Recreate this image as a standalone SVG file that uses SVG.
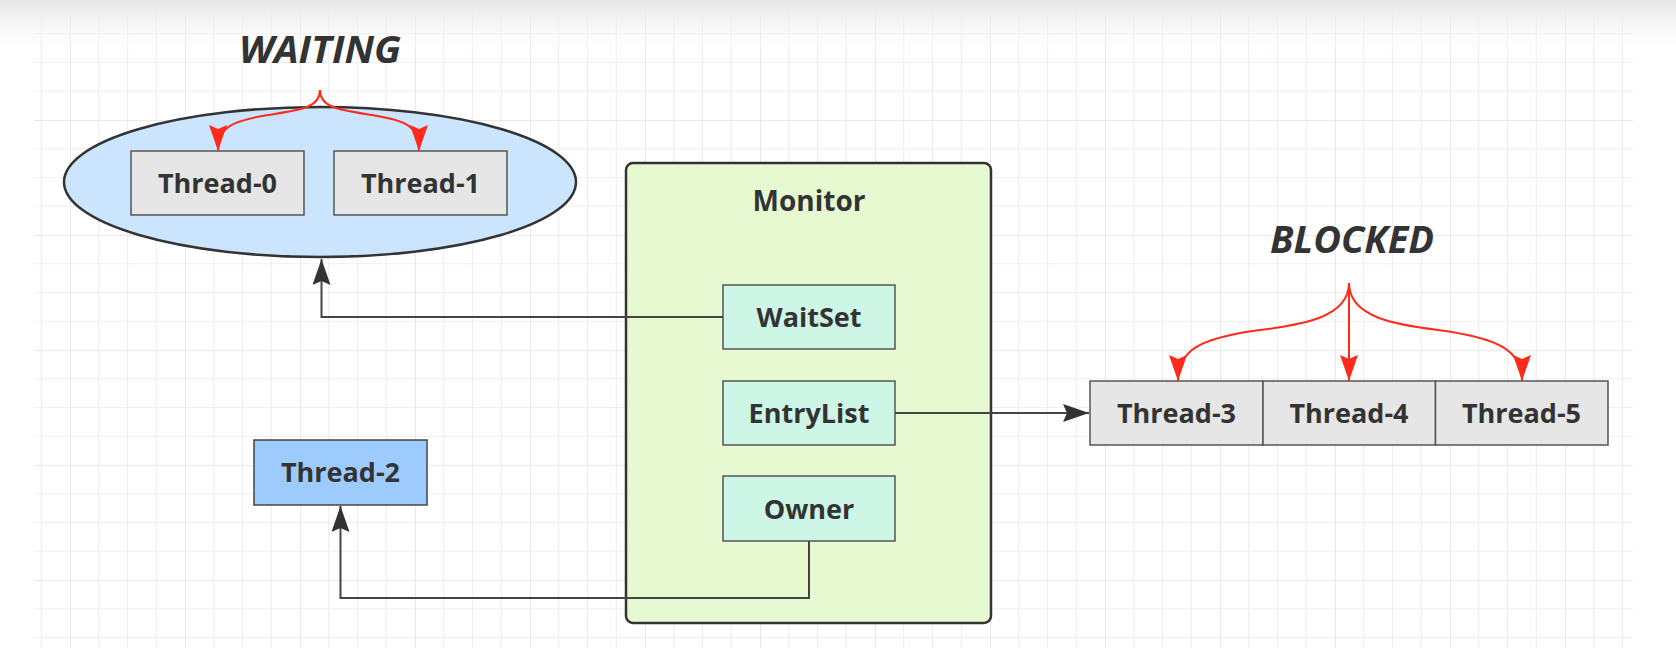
<svg xmlns="http://www.w3.org/2000/svg" width="1676" height="668" viewBox="0 0 1676 668">
<style>
.t{font-family:"Open Sans","Liberation Sans",Arial,sans-serif;font-weight:bold;font-size:27px;fill:#333;text-anchor:middle}
.st{font-family:"Open Sans","Liberation Sans",Arial,sans-serif;font-weight:bold;font-style:italic;font-size:37px;fill:#333;text-anchor:middle}
.gray{fill:#e6e6e6;stroke:#555;stroke-width:1.5}
.inner{fill:#cdf6e6;stroke:#555;stroke-width:1.5}
.conn{fill:none;stroke:#444;stroke-width:2}
.red{fill:none;stroke:#ff2a1a;stroke-width:2}
</style>
<defs>
<pattern id="grid" patternUnits="userSpaceOnUse" x="70" y="5" width="115" height="115">
<path d="M28.75 0V115M57.5 0V115M86.25 0V115M0 28.75H115M0 57.5H115M0 86.25H115" stroke="#efefef" stroke-width="1.2" fill="none"/>
<path d="M0 0V115M0 0H115" stroke="#e2e2e2" stroke-width="1.6" fill="none"/>
</pattern>
<linearGradient id="topfade" x1="0" y1="0" x2="0" y2="1">
<stop offset="0" stop-color="#e6e6e6" stop-opacity="1"/>
<stop offset="1" stop-color="#ffffff" stop-opacity="0"/>
</linearGradient>
<marker id="blk" markerUnits="userSpaceOnUse" markerWidth="30" markerHeight="24" refX="26" refY="9" orient="auto">
<path d="M0 0L26 9L0 18L4 9Z" fill="#333"/>
</marker>
<marker id="redm" markerUnits="userSpaceOnUse" markerWidth="30" markerHeight="24" refX="26" refY="9" orient="auto">
<path d="M0 0L26 9L0 18L4 9Z" fill="#ff2a1a"/>
</marker>
</defs>
<rect width="1676" height="668" fill="#ffffff"/>
<rect x="34" y="12" width="1599" height="636" fill="url(#grid)"/>
<rect x="0" y="0" width="1676" height="60" fill="url(#topfade)"/>

<g id="waiting-label"><text class="st" x="320" y="63" textLength="162" lengthAdjust="spacingAndGlyphs">WAITING</text></g>
<g id="blocked-label"><text class="st" x="1352" y="253" textLength="164" lengthAdjust="spacingAndGlyphs">BLOCKED</text></g>

<g id="waitset-ellipse">
<ellipse cx="320" cy="182" rx="256" ry="75" fill="#cce5ff" stroke="#333" stroke-width="2.5"/>
</g>
<g id="thread0"><rect class="gray" x="131" y="151" width="173" height="64"/><text class="t" x="217.5" y="193">Thread-0</text></g>
<g id="thread1"><rect class="gray" x="334" y="151" width="173" height="64"/><text class="t" x="420.5" y="193">Thread-1</text></g>

<g id="monitor">
<rect x="626" y="163" width="365" height="460" rx="7" fill="#e7f9d0" stroke="#333" stroke-width="2.5"/>
<text class="t" x="809" y="211" style="font-size:28px">Monitor</text>
</g>
<g id="waitset"><rect class="inner" x="723" y="285" width="172" height="64"/><text class="t" x="809" y="327">WaitSet</text></g>
<g id="entrylist"><rect class="inner" x="723" y="381" width="172" height="64"/><text class="t" x="809" y="423">EntryList</text></g>
<g id="owner"><rect class="inner" x="723" y="476" width="172" height="65"/><text class="t" x="809" y="519">Owner</text></g>

<g id="thread2"><rect x="254" y="440" width="173" height="65" fill="#9ecbfd" stroke="#444" stroke-width="1.5"/><text class="t" x="340.5" y="482">Thread-2</text></g>

<g id="thread3"><rect class="gray" x="1090" y="381" width="173" height="64"/><text class="t" x="1176.5" y="423">Thread-3</text></g>
<g id="thread4"><rect class="gray" x="1263" y="381" width="172.5" height="64"/><text class="t" x="1349" y="423">Thread-4</text></g>
<g id="thread5"><rect class="gray" x="1435.5" y="381" width="172.5" height="64"/><text class="t" x="1521.5" y="423">Thread-5</text></g>

<g id="connectors">
<path class="conn" d="M723 317H321.5V259" marker-end="url(#blk)"/>
<path class="conn" d="M809 541V598H340.5V506" marker-end="url(#blk)"/>
<path class="conn" d="M895 413H1089" marker-end="url(#blk)"/>
<path class="red" d="M320 90C320 108 300 110 268 115C230 121 218 128 218 151" marker-end="url(#redm)"/>
<path class="red" d="M320 90C320 108 340 110 372 115C410 121 419 128 419 151" marker-end="url(#redm)"/>
<path class="red" d="M1349 283C1349 318 1300 325 1260 330C1200 338 1178 350 1178 381" marker-end="url(#redm)"/>
<path class="red" d="M1349 283V381" marker-end="url(#redm)"/>
<path class="red" d="M1349 283C1349 318 1398 325 1438 330C1498 338 1522 350 1522 381" marker-end="url(#redm)"/>
</g>
</svg>
